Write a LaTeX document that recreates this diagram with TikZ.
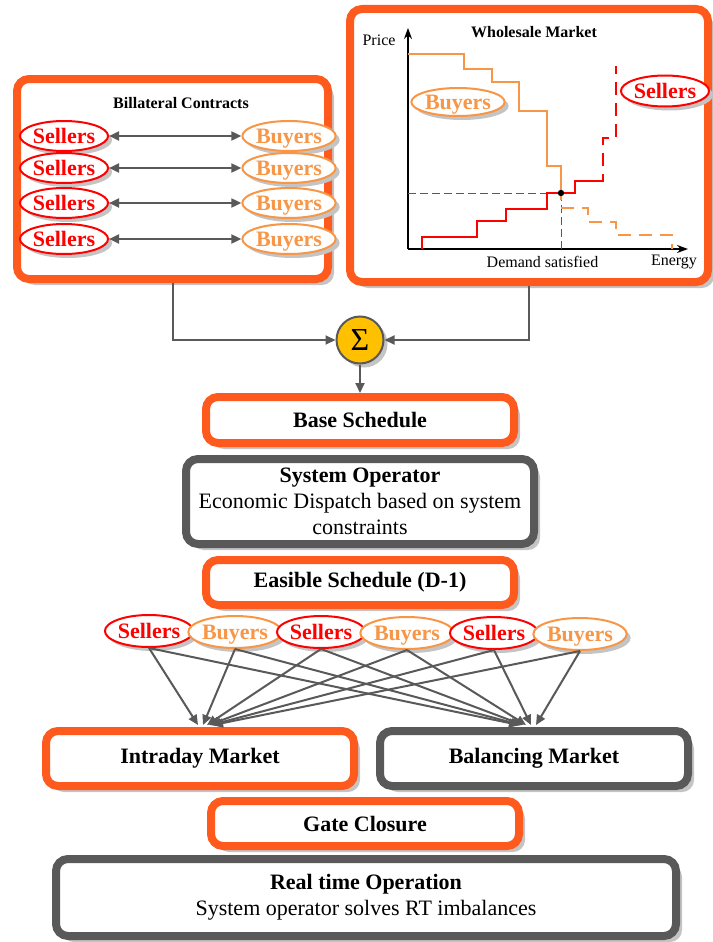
\documentclass[tikz,border=0pt]{standalone}
\usepackage{fontspec}
\setmainfont{Liberation Serif}
\usetikzlibrary{shapes.geometric,shadows,arrows.meta}

\definecolor{boxorange}{HTML}{FF5A1E}
\definecolor{boxgray}{HTML}{595959}
\definecolor{sellred}{HTML}{FF0000}
\definecolor{buyorange}{HTML}{F79646}
\definecolor{sumfill}{HTML}{FFC000}
\definecolor{shadowgray}{HTML}{C4C4C4}

\tikzset{
  panel/.style={draw, line width=8pt, rounded corners=12pt, fill=white, inner sep=0pt,
    drop shadow={shadow xshift=6pt, shadow yshift=-6pt, fill=shadowgray, opacity=1}},
  orangepanel/.style={panel, draw=boxorange},
  graypanel/.style={panel, draw=boxgray},
  boldtext/.style={font=\fontsize{22}{26}\selectfont\bfseries},
  party/.style={ellipse, draw, line width=2pt, fill=white, inner sep=0pt,
    minimum width=82pt, minimum height=30pt, font=\fontsize{22}{22}\selectfont\bfseries,
    text height=14.5pt, text depth=0pt,
    drop shadow={shadow xshift=4pt, shadow yshift=-4pt, fill=shadowgray, opacity=1}},
  seller/.style={party, draw=sellred, text=sellred},
  buyer/.style={party, draw=buyorange, text=buyorange, minimum width=86pt},
  tip/.tip={Triangle[length=10pt,width=9pt]},
  conn/.style={draw=boxgray, line width=2pt, -tip},
  twoway/.style={draw=boxgray, line width=2pt, tip-tip},
  axis/.style={draw=black, line width=1.2pt, -{Stealth[length=11pt,width=8pt]}},
  guide/.style={draw=boxgray, line width=1pt, dash pattern=on 8pt off 4pt},
  demand/.style={draw=buyorange, line width=2pt},
  supply/.style={draw=sellred, line width=2pt},
  stepdash/.style={dash pattern=on 13pt off 8pt},
  smalltitle/.style={font=\fontsize{16}{16}\selectfont\bfseries},
  axislabel/.style={font=\fontsize{16}{16}\selectfont},
}

\begin{document}
\begin{tikzpicture}[x=1pt,y=-1pt]
\useasboundingbox (0,0) rectangle (712,942);

% ---------- bilateral contracts ----------
\node[orangepanel, minimum width=311pt, minimum height=200pt] (bil) at (172.5,179) {};
\node[smalltitle] (biltitle) at (181,103) {Billateral Contracts};
\foreach \r/\y in {1/136,2/168,3/203,4/239} {
  \node[seller] (bs\r) at (64,\y) {Sellers};
  \node[buyer] (bb\r) at (289,\y) {Buyers};
  \draw[twoway] (bs\r) -- (bb\r);
}

% ---------- wholesale market ----------
\node[orangepanel, minimum width=358pt, minimum height=273pt] (whs) at (529,145.5) {};
\node[smalltitle] (whstitle) at (534,32) {Wholesale Market};
\coordinate (orig) at (408,249);
\coordinate (ytop) at (408,28);
\coordinate (xend) at (688,249);
\draw[axis] (orig) -- (ytop);
\draw[axis] (orig) -- (xend);
\node[axislabel, anchor=east] (pricelbl) at (399,40) {Price};
\node[axislabel] (energylbl) at (674,262) {Energy};
\node[axislabel] (demandlbl) at (542.5,262) {Demand satisfied};

% equilibrium guides
\coordinate (eq) at (561,193);
\draw[guide] (408,193) -- (eq);
\draw[guide] (eq) -- (561,249);

% demand curve
\draw[demand] (408,54) -- (464,54) -- (464,69) -- (492,69) -- (492,82) -- (519,82)
  -- (519,111) -- (547,111) -- (547,166) -- (561,166) -- (561,200);
\draw[demand, stepdash] (561,208) -- (588,208) -- (588,222) -- (616,222) -- (616,235)
  -- (672,235) -- (672,249);

% supply curve
\draw[supply] (422,249) -- (422,237) -- (477,237) -- (477,221) -- (506,221) -- (506,209)
  -- (547,209) -- (547,193) -- (575,193) -- (575,181) -- (597,181);
\draw[supply, stepdash] (597,181) -- (603,181) -- (603,138) -- (616,138) -- (616,66);

\fill (eq) circle (3.2pt);

\node[buyer, minimum height=28pt] (wbuy) at (458,102) {Buyers};
\node[seller, minimum height=31pt] (wsell) at (665,91) {Sellers};

% ---------- aggregation ----------
\node[circle, draw=boxgray, line width=2pt, fill=sumfill, minimum size=47pt, inner sep=0pt,
  font=\fontsize{32}{32}\selectfont,
  drop shadow={shadow xshift=4pt, shadow yshift=-4pt, fill=shadowgray, opacity=1}] (sumc) at (360,340) {Σ};
\draw[conn] (bil.south) |- (sumc.west);
\draw[conn] (whs.south) |- (sumc.east);

% ---------- schedule chain ----------
\node[orangepanel, boldtext, minimum width=308pt, minimum height=46pt] (base) at (360,420) {Base Schedule};
\draw[conn] (sumc.south) -- (base.north);

\node[graypanel, minimum width=348pt, minimum height=85pt, align=center,
  font=\fontsize{22}{26}\selectfont] (sysop) at (360,501.5)
  {\textbf{System Operator}\\Economic Dispatch based on system\\constraints};

\node[orangepanel, boldtext, minimum width=308pt, minimum height=45pt] (feas) at (360,582.5) {Easible Schedule (D-1)};

% ---------- market participants ----------
\node[seller, minimum height=32pt] (m1) at (149,631) {Sellers};
\node[buyer, minimum height=32pt] (m2) at (235,632) {Buyers};
\node[seller, minimum height=32pt] (m3) at (321,632) {Sellers};
\node[buyer, minimum height=32pt] (m4) at (407,633) {Buyers};
\node[seller, minimum height=32pt] (m5) at (494,633) {Sellers};
\node[buyer, minimum height=32pt] (m6) at (580,634) {Buyers};

\node[orangepanel, boldtext, minimum width=308pt, minimum height=55pt] (intra) at (200,758.5) {Intraday Market};
\node[graypanel, boldtext, minimum width=308pt, minimum height=55pt] (bal) at (534,758.5) {Balancing Market};

\foreach \i/\a/\b in {1/198/519, 2/203/521, 3/207/523, 4/209/526, 5/211/531, 6/213/536} {
  \coordinate (ti\i) at (\a,725);
  \coordinate (tb\i) at (\b,725);
  \draw[conn] (m\i.south) -- (ti\i);
  \draw[conn] (m\i.south) -- (tb\i);
}

\node[orangepanel, boldtext, minimum width=308pt, minimum height=45pt] (gate) at (365,823.5) {Gate Closure};

\node[graypanel, minimum width=620pt, minimum height=77pt, align=center,
  font=\fontsize{22}{26}\selectfont] (rt) at (366,897.5)
  {\textbf{Real time Operation}\\System operator solves RT imbalances};

\end{tikzpicture}
\end{document}
